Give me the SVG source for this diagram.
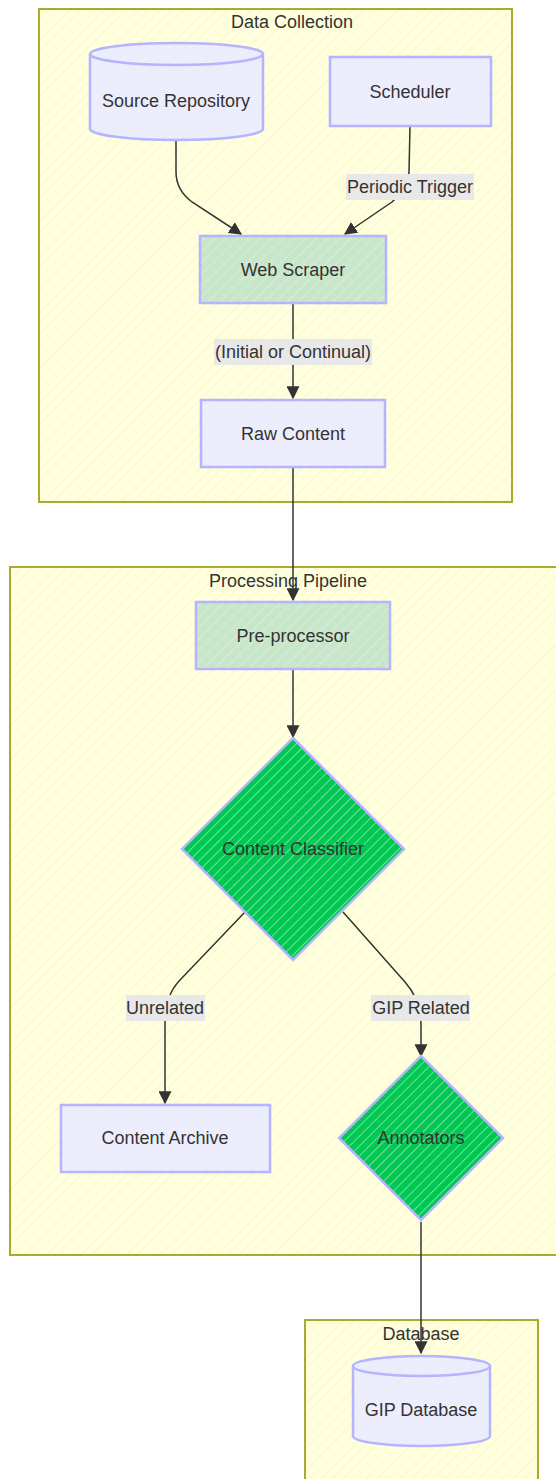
<svg xmlns="http://www.w3.org/2000/svg" width="556" height="1479" viewBox="0 0 556 1479">
<style>
text{font-family:"Liberation Sans",Arial,sans-serif;font-size:18px;fill:#333;text-anchor:middle;dominant-baseline:central}
.cluster{fill:url(#hy);stroke:#aaaa33;stroke-width:2}
.node{fill:url(#hb);stroke:#b4b4ff;stroke-width:2.5}
.green{fill:url(#hg);stroke:#b4b4ff;stroke-width:2.5}
.dia{fill:url(#hd);stroke:#b4b4ff;stroke-width:2.5}
.edge{fill:none;stroke:#333;stroke-width:1.5}
.lbl{fill:#e8e8e8}
</style>
<defs>
<pattern id="hy" width="8" height="8" patternUnits="userSpaceOnUse" patternTransform="rotate(45)"><rect width="8" height="8" fill="#ffffde"/><line x1="0" y1="0" x2="0" y2="8" stroke="#f2f2c4" stroke-width="1.2"/></pattern>
<pattern id="hb" width="8" height="8" patternUnits="userSpaceOnUse" patternTransform="rotate(45)"><rect width="8" height="8" fill="#ececff"/><line x1="0" y1="0" x2="0" y2="8" stroke="#f6f6e0" stroke-width="1.2"/></pattern>
<pattern id="hg" width="8" height="8" patternUnits="userSpaceOnUse" patternTransform="rotate(45)"><rect width="8" height="8" fill="#c8e6c9"/><line x1="0" y1="0" x2="0" y2="8" stroke="#e4f2e2" stroke-width="1.2"/></pattern>
<pattern id="hd" width="7" height="7" patternUnits="userSpaceOnUse" patternTransform="rotate(45)"><rect width="7" height="7" fill="#00c853"/><line x1="0" y1="0" x2="0" y2="7" stroke="#e8fbe8" stroke-width="1"/></pattern>
<marker id="arr" viewBox="0 0 10 10" refX="9" refY="5" markerWidth="13" markerHeight="13" markerUnits="userSpaceOnUse" orient="auto"><path d="M0,0 L10,5 L0,10 z" fill="#333"/></marker>
</defs>
<rect width="556" height="1479" fill="#fff"/>

<g id="cluster-data-collection">
<rect class="cluster" x="39" y="9" width="473" height="493"/>
<text x="292" y="22">Data Collection</text>
</g>
<g id="cluster-processing-pipeline">
<rect class="cluster" x="10" y="567" width="550" height="688"/>
</g>
<g id="cluster-database">
<rect class="cluster" x="305" y="1320" width="233" height="165"/>
</g>

<g id="edges">
<path class="edge" d="M176,140 L176,172 Q176,190 192,202 L241,234" marker-end="url(#arr)"/>
<path class="edge" d="M410,126 L409,172 Q408,188 392,202 L345,234" marker-end="url(#arr)"/>
<path class="edge" d="M293,303 L293,398" marker-end="url(#arr)"/>
<path class="edge" d="M293,467 L293,600" marker-end="url(#arr)"/>
<path class="edge" d="M293,669 L293,737" marker-end="url(#arr)"/>
<path class="edge" d="M245,912 L180,980 Q165,996 165,1020 L165,1103" marker-end="url(#arr)"/>
<path class="edge" d="M343,912 L405,982 Q421,1000 421,1025 L421,1056" marker-end="url(#arr)"/>
<path class="edge" d="M421,1222 L421,1353" marker-end="url(#arr)"/>
<rect class="lbl" x="346" y="174" width="128" height="26"/>
<text x="410" y="187">Periodic Trigger</text>
<rect class="lbl" x="214" y="339" width="158" height="26"/>
<text x="293" y="352">(Initial or Continual)</text>
<rect class="lbl" x="126" y="995" width="79" height="26"/>
<text x="165" y="1008">Unrelated</text>
<rect class="lbl" x="371" y="995" width="99" height="26"/>
<text x="421" y="1008">GIP Related</text>
</g>

<text x="288" y="581">Processing Pipeline</text>
<text x="421" y="1334">Database</text>

<g id="node-source-repository">
<path class="node" d="M90,54 A86.5,11 0 0 1 263,54 L263,129 A86.5,11 0 0 1 90,129 Z"/>
<path d="M90,54 A86.5,11 0 0 0 263,54" fill="none" stroke="#b4b4ff" stroke-width="2.5"/>
<text x="176" y="101">Source Repository</text>
</g>
<g id="node-scheduler">
<rect class="node" x="330" y="57" width="161" height="69"/>
<text x="410" y="92">Scheduler</text>
</g>
<g id="node-web-scraper">
<rect class="green" x="200" y="236" width="186" height="67"/>
<text x="293" y="270">Web Scraper</text>
</g>
<g id="node-raw-content">
<rect class="node" x="201" y="400" width="184" height="67"/>
<text x="293" y="434">Raw Content</text>
</g>
<g id="node-pre-processor">
<rect class="green" x="196" y="602" width="194" height="67"/>
<text x="293" y="636">Pre-processor</text>
</g>
<g id="node-content-classifier">
<polygon class="dia" points="293,738 404,849 293,960 182,849"/>
<text x="293" y="849">Content Classifier</text>
</g>
<g id="node-content-archive">
<rect class="node" x="61" y="1105" width="209" height="67"/>
<text x="165" y="1138">Content Archive</text>
</g>
<g id="node-annotators">
<polygon class="dia" points="421,1056 503,1138 421,1220 339,1138"/>
<text x="421" y="1138">Annotators</text>
</g>
<g id="node-gip-database">
<path class="node" d="M353,1366 A68.5,10 0 0 1 490,1366 L490,1436 A68.5,10 0 0 1 353,1436 Z"/>
<path d="M353,1366 A68.5,10 0 0 0 490,1366" fill="none" stroke="#b4b4ff" stroke-width="2.5"/>
<text x="421" y="1410">GIP Database</text>
</g>
</svg>
